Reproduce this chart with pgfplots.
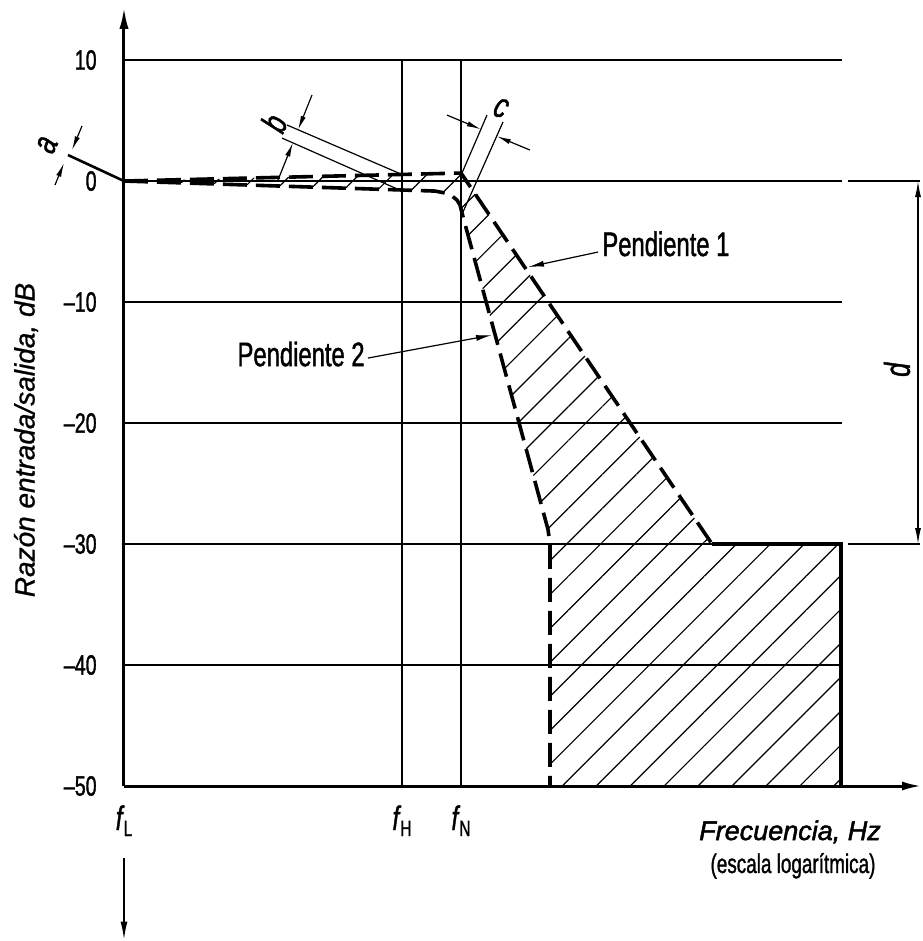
\documentclass[border=0pt]{standalone}
\usepackage{fontspec}
\setmainfont{Liberation Sans}[FakeBold=0.8]
\newfontfamily\narrowfont{Liberation Sans}[FakeStretch=0.7, FakeBold=1.2]
\newfontfamily\heavyfont{Liberation Sans}[FakeBold=1.8]
\usepackage{pgfplots}
\pgfplotsset{compat=1.18}
\usetikzlibrary{arrows.meta,patterns.meta}

\newcommand{\fsub}[1]{{\itshape f}\kern0.6pt\raisebox{-3pt}{\fontsize{11}{12}\selectfont #1}}

\begin{document}
\begin{tikzpicture}
\begin{axis}[
  at={(0,0)}, anchor=south west,
  scale only axis, width=399pt, height=389.6pt,
  xmin=0, xmax=79.8, ymin=-50, ymax=14.4,
  axis lines=left,
  axis line style={line width=1.5pt},
  x axis line style={-{Latex[length=10pt,width=4.5pt]}},
  y axis line style={-{Latex[length=11pt,width=4.5pt]}},
  tick style={draw=none}, major tick length=0pt,
  xtick={0,27.8,33.7},
  xticklabels={\fsub{L},\fsub{H},\fsub{N}},
  xticklabel style={font=\narrowfont\fontsize{17}{18}\selectfont, anchor=base, yshift=-22pt, inner sep=0pt},
  ytick={-50,-40,-30,-20,-10,0,10},
  yticklabels={–50,–40,–30,–20,–10,0,10},
  yticklabel style={font=\narrowfont\fontsize{14}{16}\selectfont, anchor=east, inner sep=0pt, xshift=-13.5pt},
  clip=false,
]
% reference grid lines
\foreach \yy in {10,0,-10,-20,-30,-40} {
  \edef\tmp{\noexpand\draw[line width=0.6pt] (axis cs:0,\yy) -- (axis cs:71.8,\yy);}\tmp
}
\draw[line width=0.6pt] (axis cs:72.4,0) -- (axis cs:79.6,0);
\draw[line width=0.6pt] (axis cs:72.4,-30) -- (axis cs:79.6,-30);
\draw[line width=0.6pt] (axis cs:27.8,-50) -- (axis cs:27.8,10);
\draw[line width=0.6pt] (axis cs:33.7,-50) -- (axis cs:33.7,10);

% hatched tolerance band
\addplot[draw=none, pattern={Lines[angle=45,distance=12pt,line width=0.6pt]}] coordinates {
 (0,0) (33.7,0.66) (58.8,-30) (71.7,-30) (71.7,-50) (42.6,-50) (42.6,-30) (42.4,-28.8)
 (33.8,-2.64) (33.6,-1.98) (33.3,-1.57) (32.8,-1.24) (32.1,-0.99) (31.1,-0.83)} -- cycle;

% upper limit (Pendiente 1)
\addplot[line width=1.8pt, dash pattern=on 12pt off 4.5pt, line join=round] coordinates {
 (0,0) (33.7,0.66) (58.8,-30)};
\addplot[line width=2pt, line join=miter] coordinates {(58.8,-30) (71.7,-30) (71.7,-50)};
% lower limit (Pendiente 2)
\addplot[line width=1.8pt, dash pattern=on 12pt off 4.5pt, line join=round] coordinates {
 (0,0) (31.1,-0.83) (32.1,-0.99) (32.8,-1.24) (33.3,-1.57) (33.6,-1.98) (33.8,-2.64)
 (42.4,-28.8) (42.6,-30) (42.6,-50)};

% dimension a
\draw[line width=1.3pt] (axis cs:0,0) -- (axis cs:-5.6,2.15);
\draw[line width=0.6pt,-{Latex[length=7pt,width=2.6pt]}] (axis cs:-4.2,4.55) -- (axis cs:-5.2,2.56);
\draw[line width=0.6pt,-{Latex[length=7pt,width=2.6pt]}] (axis cs:-6.9,-0.33) -- (axis cs:-6.0,1.49);
\node[rotate=65, font=\narrowfont\itshape\fontsize{18}{19}\selectfont] at (axis cs:-7.7,2.98) {a};
% dimension b
\draw[line width=0.6pt] (axis cs:16.3,4.63) -- (axis cs:27.8,0.54);
\draw[line width=0.6pt] (axis cs:15.8,3.55) -- (axis cs:27.5,-0.72);
\draw[line width=0.6pt,-{Latex[length=7pt,width=2.6pt]}] (axis cs:18.8,7.11) -- (axis cs:17.41,4.24);
\draw[line width=0.6pt,-{Latex[length=7pt,width=2.6pt]}] (axis cs:15.4,0.08) -- (axis cs:16.89,3.16);
\node[rotate=65, font=\narrowfont\itshape\fontsize{18}{19}\selectfont] at (axis cs:15.0,4.79) {b};
% dimension c
\draw[line width=0.6pt] (axis cs:33.8,0.66) -- (axis cs:36.3,5.45);
\draw[line width=0.6pt] (axis cs:33.9,-2.56) -- (axis cs:37.9,4.88);
\draw[line width=0.6pt,-{Latex[length=7pt,width=2.6pt]}] (axis cs:32.3,5.45) -- (axis cs:35.68,4.28);
\draw[line width=0.6pt,-{Latex[length=7pt,width=2.6pt]}] (axis cs:40.6,2.56) -- (axis cs:37.28,3.70);
\node[rotate=-23, font=\narrowfont\itshape\fontsize{18}{19}\selectfont] at (axis cs:37.7,6.03) {c};
% dimension d
\draw[line width=0.6pt,{Latex[length=8pt,width=3pt]}-{Latex[length=8pt,width=3pt]}] (axis cs:79.4,0) -- (axis cs:79.4,-30);
\node[rotate=90, font=\narrowfont\itshape\fontsize{18}{19}\selectfont] at (axis cs:77.3,-15.6) {d};

% slope callouts
\draw[line width=0.6pt,-{Latex[length=8pt,width=3pt]}] (axis cs:47.4,-5.87) -- (axis cs:40.4,-7.11);
\node[anchor=base west, inner sep=0pt, font=\narrowfont\fontsize{17}{18}\selectfont] at (axis cs:47.8,-6.2) {Pendiente 1};
\draw[line width=0.6pt,-{Latex[length=8pt,width=3pt]}] (axis cs:24.4,-14.63) -- (axis cs:36.8,-12.73);
\node[anchor=base east, inner sep=0pt, font=\narrowfont\fontsize{17}{18}\selectfont] at (axis cs:24.1,-15.3) {Pendiente 2};

% axis titles
\node[rotate=90, font=\itshape\fontsize{14}{16}\selectfont] at (axis cs:-9.8,-21.4) {Razón entrada/salida, dB};
\node[font=\heavyfont\itshape\fontsize{13.5}{15}\selectfont] at (axis cs:66.6,-53.8) {Frecuencia, Hz};
\node[font=\narrowfont\fontsize{13.5}{15}\selectfont] at (axis cs:66.9,-56.6) {(escala logarítmica)};

% downward continuation of the ordinate
\draw[line width=0.8pt,-{Latex[length=9pt,width=3.5pt]}] (axis cs:0,-55.95) -- (axis cs:0,-62.7);
\end{axis}
\pgfresetboundingbox
\useasboundingbox (-62pt,-77.5pt) rectangle (399pt,393pt);
\end{tikzpicture}
\end{document}
